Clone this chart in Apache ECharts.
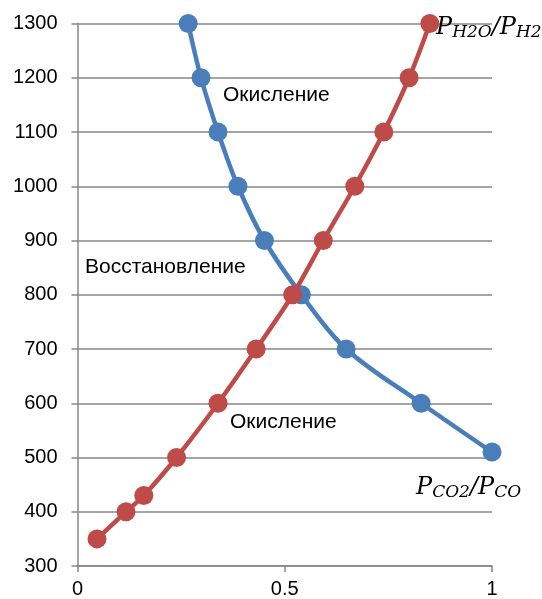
<!DOCTYPE html>
<html>
<head>
<meta charset="utf-8">
<script src="https://cdn.jsdelivr.net/npm/echarts@6/dist/echarts.min.js"></script>
<style>
  html, body { margin: 0; padding: 0; background: #fff; }
  #chart { width: 542px; height: 599px; }
</style>
</head>
<body>
<div id="chart"></div>
<script>
// Equilibrium curves: temperature (°C) vs gas ratio
const temperaturesCO = [1300, 1200, 1100, 1000, 900, 800, 700, 600, 510];
const ratioCO2CO = [0.267, 0.298, 0.339, 0.387, 0.451, 0.54, 0.648, 0.829, 1.0];

const temperaturesH2 = [350, 400, 430, 500, 600, 700, 800, 900, 1000, 1100, 1200, 1300];
const ratioH2OH2 = [0.047, 0.117, 0.160, 0.239, 0.339, 0.431, 0.519, 0.593, 0.669, 0.739, 0.800, 0.850];

const xTicks = [0, 0.5, 1];
const yMin = 300, yMax = 1300, yStep = 100;

const chart = echarts.init(document.getElementById('chart'));

const pairs = (xs, ys) => xs.map((x, i) => [x, ys[i]]);
const mathFont = 'DejaVu Serif';
const sub = { fontFamily: mathFont, fontStyle: 'italic', fontSize: 17, color: '#000', padding: [9, 0, 0, 0] };
const main = { fontFamily: mathFont, fontStyle: 'italic', fontSize: 24, color: '#000' };
const noteFont = '21px "Liberation Sans"';

chart.setOption({
  animation: false,
  grid: { left: 77.5, right: 50, top: 23.5, bottom: 32.5 },
  xAxis: {
    type: 'value', min: 0, max: 1, interval: 0.5,
    axisLine: { show: true, lineStyle: { color: '#878787', width: 1.5 } },
    axisTick: { show: true, length: 6, lineStyle: { color: '#878787', width: 1.5 } },
    axisLabel: {
      color: '#000', fontSize: 20, fontFamily: 'Liberation Sans', margin: 13,
      formatter: v => (xTicks.includes(v) ? String(v) : '')
    },
    splitLine: { show: false }
  },
  yAxis: {
    type: 'value', min: yMin, max: yMax, interval: yStep,
    axisLine: { show: true, lineStyle: { color: '#878787', width: 1.5 } },
    axisTick: { show: true, length: 6, lineStyle: { color: '#878787', width: 1.5 } },
    axisLabel: { color: '#000', fontSize: 20, fontFamily: 'Liberation Sans', margin: 20, formatter: v => String(v) },
    splitLine: { show: true, lineStyle: { color: '#878787', width: 1.5 } }
  },
  series: [
    {
      name: 'CO2/CO', type: 'line', smooth: 0.35,
      data: pairs(ratioCO2CO, temperaturesCO),
      symbol: 'circle', symbolSize: 19,
      lineStyle: { color: '#4A7EBB', width: 4.5 },
      itemStyle: { color: '#4A7EBB' },
      z: 2
    },
    {
      name: 'H2O/H2', type: 'line', smooth: 0.35,
      data: pairs(ratioH2OH2, temperaturesH2),
      symbol: 'circle', symbolSize: 19,
      lineStyle: { color: '#BE4B48', width: 4.5 },
      itemStyle: { color: '#BE4B48' },
      z: 3
    }
  ],
  graphic: [
    { type: 'text', left: 223, top: 85, style: { text: 'Окисление', font: noteFont, fill: '#000' } },
    { type: 'text', left: 85, top: 257, style: { text: 'Восстановление', font: noteFont, fill: '#000' } },
    { type: 'text', left: 230, top: 412, style: { text: 'Окисление', font: noteFont, fill: '#000' } },
    {
      type: 'text', left: 436, top: 16, z: 10,
      style: {
        text: '{m|P}{s|H2O}{m|/P}{s|H2}',
        rich: { m: main, s: sub }
      }
    },
    {
      type: 'text', left: 416, top: 476, z: 10,
      style: {
        text: '{m|P}{s|CO2}{m|/P}{s|CO}',
        rich: { m: main, s: sub }
      }
    }
  ]
});
</script>
</body>
</html>
